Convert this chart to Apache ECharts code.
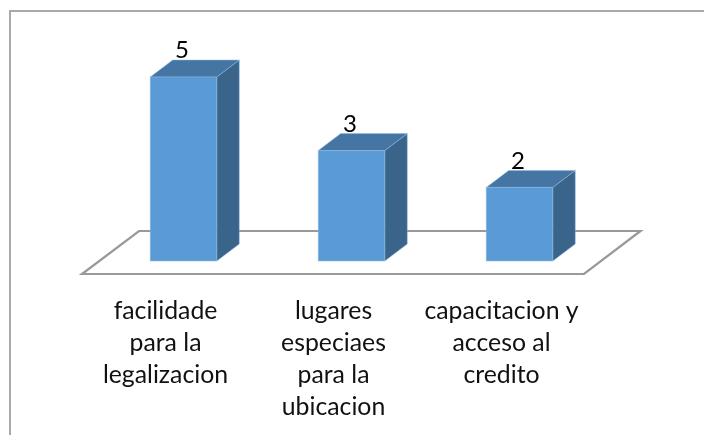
<!DOCTYPE html>
<html>
<head>
<meta charset="utf-8">
<style>html,body{margin:0;padding:0;background:#fff}#c{width:704px;height:435px}</style>
<script src="https://cdn.jsdelivr.net/npm/echarts@6/dist/echarts.min.js"></script>
</head>
<body>
<div id="c"></div>
<script>
const categories = ['facilidade\npara la\nlegalizacion', 'lugares\nespeciaes\npara la\nubicacion', 'capacitacion y\nacceso al\ncredito'];
const values = [5, 3, 2];
const yMin = 0;
const yMax = 5;

const FONT = 'Lato, "Open Sans", sans-serif';
const FRONT = '#5b9bd5', TOP = '#4575a3', SIDE = '#3a6489', EDGE = '#8ab8e2';
const DX = 22.5, DY = 17;

const chart = echarts.init(document.getElementById('c'), null, {renderer: 'canvas'});
chart.setOption({
  animation: false,
  backgroundColor: '#ffffff',
  graphic: [
    {type: 'line', silent: true, shape: {x1: 10, y1: 11, x2: 704, y2: 11}, style: {stroke: '#a9a9a9', lineWidth: 2}},
    {type: 'line', silent: true, shape: {x1: 10, y1: 10, x2: 10, y2: 435}, style: {stroke: '#a9a9a9', lineWidth: 2}}
  ],
  grid: {left: 99.5, width: 504, top: 77, height: 184},
  xAxis: {
    type: 'category',
    data: categories,
    axisLine: {show: false},
    axisTick: {show: false},
    axisLabel: {
      interval: 0, margin: 34, color: '#111111', fontFamily: FONT, fontSize: 24.8, lineHeight: 32,
      hideOverlap: false, padding: [0, 36, 0, 0]
    }
  },
  yAxis: {type: 'value', min: yMin, max: yMax, show: false, splitLine: {show: false}},
  series: [
    {
      type: 'custom',
      silent: true,
      z: 1,
      data: [[0, 0]],
      renderItem: function (params) {
        const g = params.coordSys;
        const b = g.y + g.height, r = g.x + g.width;
        return {
          type: 'polygon',
          shape: {points: [[g.x - 17.5, b + 13], [r - 19.5, b + 13], [r + 37, b - 30], [g.x + 39.5, b - 30]]},
          style: {fill: '#ffffff', stroke: '#999999', lineWidth: 2.2}
        };
      }
    },
    {
      type: 'custom',
      silent: true,
      z: 2,
      data: values.map((v, i) => [i, v]),
      encode: {x: 0, y: 1},
      renderItem: function (params, api) {
        const top = api.coord([api.value(0), api.value(1)]);
        const base = api.coord([api.value(0), 0]);
        const w = api.size([1, 0])[0] * 0.396;
        const l = top[0] - w / 2, r = top[0] + w / 2, t = top[1], b = base[1];
        const edge = {stroke: EDGE, lineWidth: 0.5};
        return {
          type: 'group',
          children: [
            {type: 'polygon', shape: {points: [[r, t], [r + DX, t - DY], [r + DX, b - DY], [r, b]]},
             style: Object.assign({fill: SIDE}, edge)},
            {type: 'polygon', shape: {points: [[l, t], [l + DX, t - DY], [r + DX, t - DY], [r, t]]},
             style: Object.assign({fill: TOP}, edge)},
            {type: 'rect', shape: {x: l, y: t, width: w, height: b - t},
             style: Object.assign({fill: FRONT}, edge)},
            {type: 'text', style: {
              text: String(api.value(1)), x: top[0] - 1.5, y: t - 26.5,
              align: 'center', verticalAlign: 'middle',
              fill: '#000000', font: '24px ' + FONT
            }}
          ]
        };
      }
    }
  ]
});
</script>
</body>
</html>
